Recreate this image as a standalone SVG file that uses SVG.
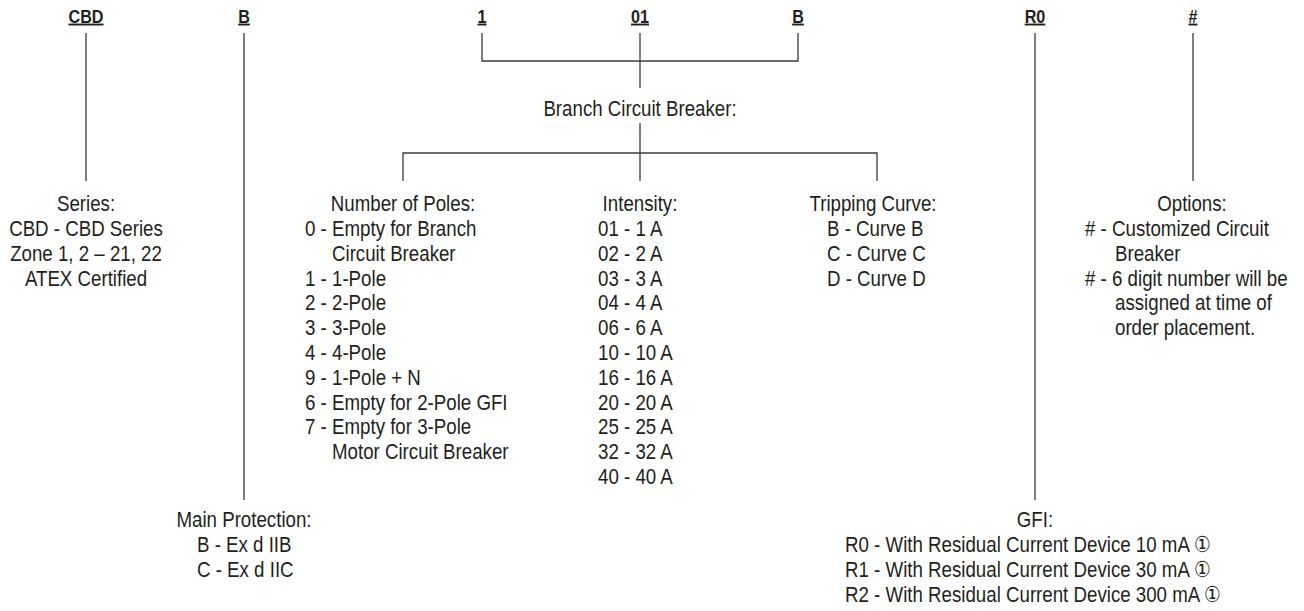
<svg xmlns="http://www.w3.org/2000/svg" width="1304" height="611" viewBox="0 0 1304 611">
<style>
text{font-family:"Liberation Sans",Arial,sans-serif;fill:#231f20;font-size:22px}
.code{font-weight:bold;font-size:19px;text-decoration:underline}
.c{text-anchor:middle}
.ln{stroke:#3a3a3a;stroke-width:1.3;fill:none}
</style>
<rect width="1304" height="611" fill="#fff"/>
<g id="connectors">
<path class="ln" d="M86 33V181"/>
<path class="ln" d="M244 33V500"/>
<path class="ln" d="M482 33V61H798V33"/>
<path class="ln" d="M640 33V88"/>
<path class="ln" d="M640 123V181M403 181V153H877V181"/>
<path class="ln" d="M1035 33V500"/>
<path class="ln" d="M1193 33V181"/>
</g>
<g id="codes">
<text class="code c" transform="translate(86 22.5) scale(.85 1)">CBD</text>
<text class="code c" transform="translate(244 22.5) scale(.85 1)">B</text>
<text class="code c" transform="translate(482 22.5) scale(.85 1)">1</text>
<text class="code c" transform="translate(640 22.5) scale(.85 1)">01</text>
<text class="code c" transform="translate(798 22.5) scale(.85 1)">B</text>
<text class="code c" transform="translate(1035 22.5) scale(.85 1)">R0</text>
<text class="code c" transform="translate(1193 22.5) scale(.85 1)">#</text>
</g>
<g id="branch"><text class="c" transform="translate(640 116) scale(.85 1)">Branch Circuit Breaker:</text></g>
<g id="series">
<text class="c" transform="translate(86 211) scale(.85 1)">Series:</text>
<text class="c" transform="translate(86 236) scale(.85 1)">CBD - CBD Series</text>
<text class="c" transform="translate(86 260.5) scale(.85 1)">Zone 1, 2 – 21, 22</text>
<text class="c" transform="translate(86 285.5) scale(.85 1)">ATEX Certified</text>
</g>
<g id="poles">
<text class="c" transform="translate(403 211) scale(.85 1)">Number of Poles:</text>
<text transform="translate(305 236) scale(.85 1)">0 - Empty for Branch</text>
<text transform="translate(332 260.5) scale(.85 1)">Circuit Breaker</text>
<text transform="translate(305 285.5) scale(.85 1)">1 - 1-Pole</text>
<text transform="translate(305 310) scale(.85 1)">2 - 2-Pole</text>
<text transform="translate(305 335) scale(.85 1)">3 - 3-Pole</text>
<text transform="translate(305 360) scale(.85 1)">4 - 4-Pole</text>
<text transform="translate(305 384.5) scale(.85 1)">9 - 1-Pole + N</text>
<text transform="translate(305 409.5) scale(.85 1)">6 - Empty for 2-Pole GFI</text>
<text transform="translate(305 434) scale(.85 1)">7 - Empty for 3-Pole</text>
<text transform="translate(332 459) scale(.85 1)">Motor Circuit Breaker</text>
</g>
<g id="intensity">
<text class="c" transform="translate(640 211) scale(.85 1)">Intensity:</text>
<text transform="translate(598 236) scale(.85 1)">01 - 1 A</text>
<text transform="translate(598 260.5) scale(.85 1)">02 - 2 A</text>
<text transform="translate(598 285.5) scale(.85 1)">03 - 3 A</text>
<text transform="translate(598 310) scale(.85 1)">04 - 4 A</text>
<text transform="translate(598 335) scale(.85 1)">06 - 6 A</text>
<text transform="translate(598 360) scale(.85 1)">10 - 10 A</text>
<text transform="translate(598 384.5) scale(.85 1)">16 - 16 A</text>
<text transform="translate(598 409.5) scale(.85 1)">20 - 20 A</text>
<text transform="translate(598 434) scale(.85 1)">25 - 25 A</text>
<text transform="translate(598 459) scale(.85 1)">32 - 32 A</text>
<text transform="translate(598 484) scale(.85 1)">40 - 40 A</text>
</g>
<g id="tripping">
<text class="c" transform="translate(873 211) scale(.85 1)">Tripping Curve:</text>
<text transform="translate(827 236) scale(.85 1)">B - Curve B</text>
<text transform="translate(827 260.5) scale(.85 1)">C - Curve C</text>
<text transform="translate(827 285.5) scale(.85 1)">D - Curve D</text>
</g>
<g id="options">
<text class="c" transform="translate(1192 211) scale(.85 1)">Options:</text>
<text transform="translate(1085 236) scale(.85 1)"># - Customized Circuit</text>
<text transform="translate(1115 260.5) scale(.85 1)">Breaker</text>
<text transform="translate(1085 285.5) scale(.85 1)"># - 6 digit number will be</text>
<text transform="translate(1115 310) scale(.85 1)">assigned at time of</text>
<text transform="translate(1115 335) scale(.85 1)">order placement.</text>
</g>
<g id="mainprot">
<text class="c" transform="translate(244 527) scale(.85 1)">Main Protection:</text>
<text transform="translate(197 552) scale(.85 1)">B - Ex d IIB</text>
<text transform="translate(197 577) scale(.85 1)">C - Ex d IIC</text>
</g>
<g id="gfi">
<text class="c" transform="translate(1035 527) scale(.85 1)">GFI:</text>
<text transform="translate(845 552) scale(.85 1)">R0 - With Residual Current Device 10 mA ①</text>
<text transform="translate(845 577) scale(.85 1)">R1 - With Residual Current Device 30 mA ①</text>
<text transform="translate(845 602) scale(.85 1)">R2 - With Residual Current Device 300 mA ①</text>
</g>
</svg>
